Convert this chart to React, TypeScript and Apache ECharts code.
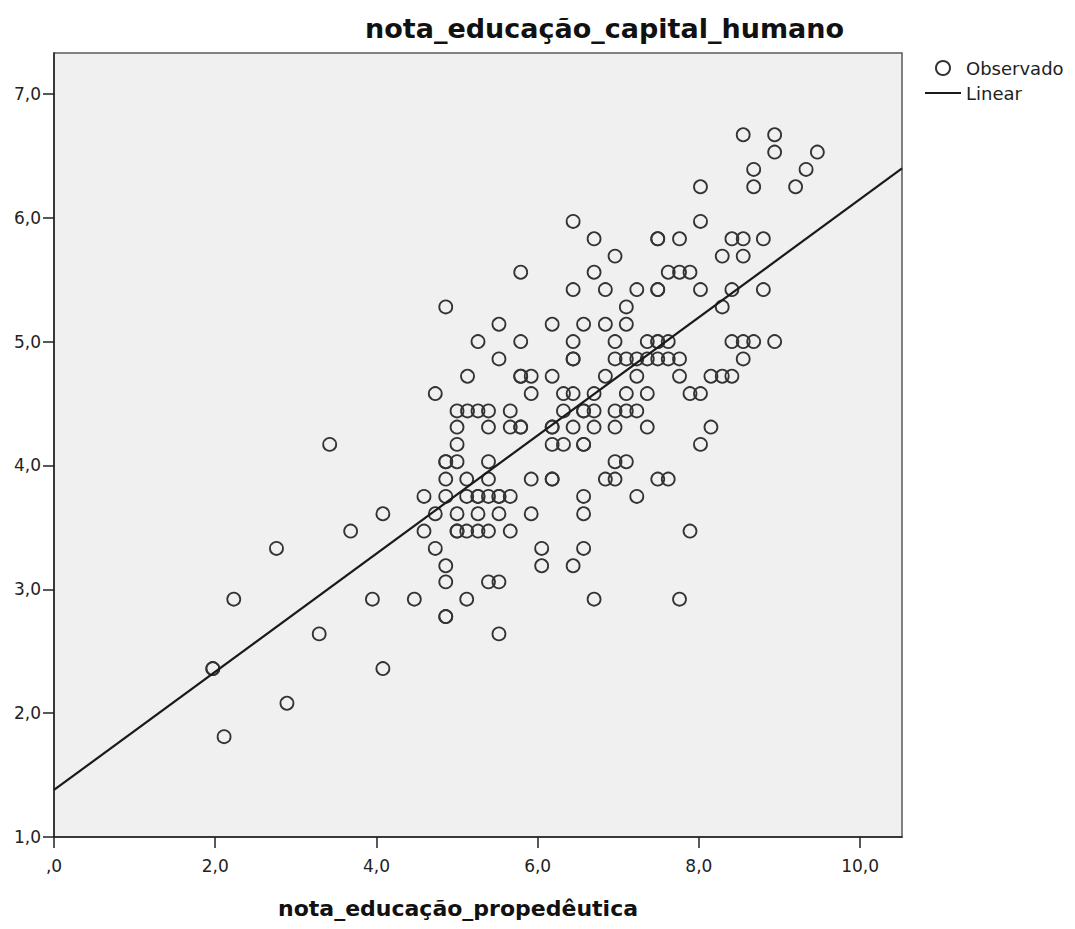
import React, { useEffect, useRef } from "react";
import * as echarts from "echarts";

// Observed points [nota_educação_propedêutica, nota_educação_capital_humano]
const observado: [number, number][] = [
  [8.55, 6.67], [8.94, 6.67],
  [8.94, 6.53], [9.47, 6.53],
  [8.68, 6.39], [9.33, 6.39],
  [8.02, 6.25], [8.68, 6.25], [9.2, 6.25],
  [6.44, 5.97], [8.02, 5.97],
  [6.7, 5.83], [7.49, 5.83], [7.49, 5.83], [7.76, 5.83], [8.41, 5.83], [8.55, 5.83], [8.8, 5.83],
  [6.96, 5.69], [8.29, 5.69], [8.55, 5.69],
  [5.79, 5.56], [6.7, 5.56], [7.62, 5.56], [7.76, 5.56], [7.89, 5.56],
  [6.44, 5.42], [6.84, 5.42], [7.23, 5.42], [7.49, 5.42], [7.49, 5.42], [8.02, 5.42], [8.41, 5.42], [8.8, 5.42],
  [4.86, 5.28], [7.1, 5.28], [8.29, 5.28],
  [5.52, 5.14], [6.18, 5.14], [6.57, 5.14], [6.84, 5.14], [7.1, 5.14],
  [5.26, 5.0], [5.79, 5.0], [6.44, 5.0], [6.96, 5.0], [7.36, 5.0], [7.49, 5.0], [7.49, 5.0], [7.62, 5.0],
  [8.41, 5.0], [8.55, 5.0], [8.68, 5.0], [8.94, 5.0],
  [5.52, 4.86], [6.44, 4.86], [6.44, 4.86], [6.96, 4.86], [7.1, 4.86], [7.23, 4.86], [7.36, 4.86],
  [7.49, 4.86], [7.62, 4.86], [7.76, 4.86], [8.55, 4.86],
  [5.13, 4.72], [5.79, 4.72], [5.79, 4.72], [5.92, 4.72], [6.18, 4.72], [6.84, 4.72], [7.23, 4.72],
  [7.76, 4.72], [8.15, 4.72], [8.29, 4.72], [8.41, 4.72],
  [4.73, 4.58], [5.92, 4.58], [6.32, 4.58], [6.44, 4.58], [6.7, 4.58], [7.1, 4.58], [7.36, 4.58],
  [7.89, 4.58], [8.02, 4.58],
  [5.0, 4.44], [5.13, 4.44], [5.26, 4.44], [5.39, 4.44], [5.66, 4.44], [6.32, 4.44], [6.57, 4.44],
  [6.57, 4.44], [6.7, 4.44], [6.96, 4.44], [7.1, 4.44], [7.23, 4.44],
  [5.0, 4.31], [5.39, 4.31], [5.66, 4.31], [5.79, 4.31], [5.79, 4.31], [6.18, 4.31], [6.18, 4.31],
  [6.44, 4.31], [6.7, 4.31], [6.96, 4.31], [7.36, 4.31], [8.15, 4.31],
  [3.42, 4.17], [5.0, 4.17], [6.18, 4.17], [6.32, 4.17], [6.57, 4.17], [6.57, 4.17], [8.02, 4.17],
  [4.86, 4.03], [4.86, 4.03], [5.0, 4.03], [5.39, 4.03], [6.96, 4.03], [7.1, 4.03],
  [4.86, 3.89], [5.12, 3.89], [5.39, 3.89], [5.92, 3.89], [6.18, 3.89], [6.18, 3.89], [6.84, 3.89],
  [6.96, 3.89], [7.49, 3.89], [7.62, 3.89],
  [4.59, 3.75], [4.86, 3.75], [5.12, 3.75], [5.26, 3.75], [5.26, 3.75], [5.39, 3.75], [5.52, 3.75],
  [5.52, 3.75], [5.66, 3.75], [6.57, 3.75], [7.23, 3.75],
  [4.08, 3.61], [4.73, 3.61], [5.0, 3.61], [5.26, 3.61], [5.52, 3.61], [5.92, 3.61], [6.57, 3.61],
  [3.68, 3.47], [4.59, 3.47], [5.0, 3.47], [5.0, 3.47], [5.12, 3.47], [5.26, 3.47], [5.39, 3.47],
  [5.66, 3.47], [7.89, 3.47],
  [2.76, 3.33], [4.73, 3.33], [6.05, 3.33], [6.57, 3.33],
  [4.86, 3.19], [6.05, 3.19], [6.44, 3.19],
  [4.86, 3.06], [5.39, 3.06], [5.52, 3.06],
  [2.23, 2.92], [3.95, 2.92], [4.47, 2.92], [5.12, 2.92], [6.7, 2.92], [7.76, 2.92],
  [4.86, 2.78], [4.86, 2.78],
  [3.29, 2.64], [5.52, 2.64],
  [1.97, 2.36], [1.97, 2.36], [4.08, 2.36],
  [2.89, 2.08],
  [2.11, 1.81],
];

// Linear fit (as shown by the chart's regression line)
const linearIntercept = 1.38;
const linearSlope = 0.477;

const xTicks = [0, 2, 4, 6, 8, 10];
const yTicks = [1, 2, 3, 4, 5, 6, 7];
const xRange = [0, 10.52];
const yRange = [1, 7.33];

const chartTitle = "nota_educação_capital_humano";
const xAxisTitle = "nota_educação_propedêutica";
const legendNames = ["Observado", "Linear"];

const fmt = (v: number) => (v === 0 ? ",0" : v.toFixed(1).replace(".", ","));

export default function App() {
  const ref = useRef<HTMLDivElement>(null);

  useEffect(() => {
    document.body.style.margin = "0";
    if (!ref.current) return;
    const chart = echarts.init(ref.current, null, { renderer: "svg" });
    const font = "DejaVu Sans";
    const linePts = [
      [xRange[0], linearIntercept + linearSlope * xRange[0]],
      [xRange[1], linearIntercept + linearSlope * xRange[1]],
    ];
    chart.setOption({
      animation: false,
      backgroundColor: "#ffffff",
      textStyle: { fontFamily: font },
      title: {
        text: chartTitle,
        left: 365,
        top: 15,
        padding: 0,
        textStyle: { fontFamily: font, fontSize: 27, fontWeight: "bold", color: "#111" },
      },
      legend: {
        orient: "vertical",
        left: 925,
        top: 59,
        padding: 0,
        itemWidth: 36,
        itemHeight: 14,
        itemGap: 7,
        selectedMode: false,
        symbolKeepAspect: true,
        data: [
          { name: legendNames[0], icon: "circle" },
          { name: legendNames[1], icon: "path://M0 0H36V2H0Z" },
        ],
        textStyle: { fontFamily: font, fontSize: 18, color: "#222", lineHeight: 18 },
      },
      grid: {
        left: 54,
        top: 53,
        width: 848,
        height: 784,
        show: true,
        backgroundColor: "#f0f0f0",
        borderColor: "#5a5a5a",
        borderWidth: 1.5,
      },
      xAxis: {
        type: "value",
        min: xRange[0],
        max: xRange[1],
        interval: 2,
        name: xAxisTitle,
        nameLocation: "middle",
        nameGap: 60,
        nameTextStyle: {
          fontFamily: font,
          fontSize: 22,
          fontWeight: "bold",
          color: "#111",
          padding: [0, 40, 0, 0],
        },
        splitLine: { show: false },
        axisLine: { show: true, onZero: false, lineStyle: { color: "#222", width: 1.5 } },
        axisTick: { show: true, length: 11, customValues: xTicks, lineStyle: { color: "#222", width: 1.5 } },
        axisLabel: {
          customValues: xTicks,
          formatter: fmt,
          margin: 20,
          fontFamily: font,
          fontSize: 17,
          color: "#222",
        },
      },
      yAxis: {
        type: "value",
        min: yRange[0],
        max: yRange[1],
        interval: 1,
        splitLine: { show: false },
        axisLine: { show: true, onZero: false, lineStyle: { color: "#222", width: 1.5 } },
        axisTick: { show: true, length: 11, customValues: yTicks, lineStyle: { color: "#222", width: 1.5 } },
        axisLabel: {
          customValues: yTicks,
          formatter: fmt,
          margin: 13,
          fontFamily: font,
          fontSize: 17,
          color: "#222",
        },
      },
      series: [
        {
          name: legendNames[0],
          type: "scatter",
          data: observado,
          symbol: "circle",
          symbolSize: 13,
          itemStyle: { color: "rgba(0,0,0,0)", borderColor: "#333", borderWidth: 1.8, opacity: 1 },
          emphasis: { disabled: true },
          silent: true,
        },
        {
          name: legendNames[1],
          type: "line",
          data: linePts,
          symbol: "none",
          showSymbol: false,
          lineStyle: { color: "#1a1a1a", width: 2.2 },
          itemStyle: { color: "#1a1a1a" },
          emphasis: { disabled: true },
          silent: true,
          z: 3,
        },
      ],
    });
    return () => chart.dispose();
  }, []);

  return <div ref={ref} style={{ width: 1075, height: 929 }} />;
}
